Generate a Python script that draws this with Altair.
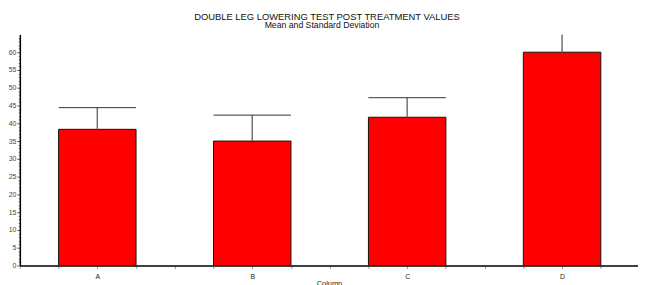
import altair as alt
import pandas as pd

categories = ["A", "B", "C", "D"]
means = [38.3, 35.0, 41.7, 60.0]
sds = [6.1, 7.3, 5.5, 8.0]
y_tick_values = list(range(0, 65))
x_tick_values = [i * 0.25 for i in range(16)]
title_text = "DOUBLE LEG LOWERING TEST POST TREATMENT VALUES"
subtitle_text = "Mean and Standard Deviation"
x_title = "Column"
corner_mark = "-"

df = pd.DataFrame({"cat": categories, "mean": means, "sd": sds})
df["pos"] = [i + 0.5 for i in range(len(categories))]
df["left"] = df["pos"] - 0.25
df["right"] = df["pos"] + 0.25
df["upper"] = df["mean"] + df["sd"]
df["zero"] = 0.0

cat_js = "[" + ",".join("'" + c + "'" for c in categories) + "]"
x_label_expr = f"(datum.value % 1) === 0.5 ? {cat_js}[floor(datum.value)] : ''"

FONT = "Liberation Sans"

xscale = alt.Scale(domain=[0, 3.99], nice=False, zero=False)
yscale = alt.Scale(domain=[0, 65], nice=False)

x_axis = alt.Axis(
    values=x_tick_values, labelExpr=x_label_expr, title=x_title, grid=False,
    tickSize=3, tickColor="#999", domainColor="#000", domainWidth=1.5,
    labelFontSize=7, labelColor="#222", labelFont=FONT, labelPadding=4,
    labelFlush=False, labelOverlap=False, titleFontSize=7.5, titleFont=FONT,
    titleFontWeight="normal", titleColor="#222", titlePadding=0,
)
y_axis = alt.Axis(
    values=y_tick_values, labelExpr="datum.value % 5 === 0 ? datum.label : ''",
    title=None, grid=False,
    tickSize={"condition": {"test": "datum.value % 5 === 0", "value": 3}, "value": 1.5},
    tickColor="#555", domainColor="#000", domainWidth=1.5,
    labelFontSize=7, labelColor="#444", labelFont=FONT, labelPadding=1,
    labelOverlap=False, labelFlush=False,
)

base = alt.Chart(df)

bars = base.mark_rect(color="#ff0000", stroke="#111", strokeWidth=1, clip=True).encode(
    x=alt.X("left:Q", scale=xscale, axis=x_axis),
    x2="right:Q",
    y=alt.Y("zero:Q", scale=yscale, axis=y_axis),
    y2="mean:Q",
)

whisker = base.mark_rule(color="#707070", strokeWidth=1.5, clip=True).encode(
    x=alt.X("pos:Q", scale=xscale, axis=x_axis),
    y=alt.Y("mean:Q", scale=yscale, axis=y_axis),
    y2="upper:Q",
)

cap = base.mark_rule(color="#333", strokeWidth=1, clip=True).encode(
    x=alt.X("left:Q", scale=xscale, axis=x_axis),
    x2="right:Q",
    y=alt.Y("upper:Q", scale=yscale, axis=y_axis),
)

texts = pd.DataFrame({
    "t": [title_text, subtitle_text, corner_mark],
    "role": ["title", "subtitle", "corner"],
})

title_mark = alt.Chart(texts).transform_filter("datum.role === 'title'").mark_text(
    fontSize=9.5, font=FONT, color="#111", align="center", baseline="alphabetic"
).encode(x=alt.value(311), y=alt.value(-15), text="t:N")

subtitle_mark = alt.Chart(texts).transform_filter("datum.role === 'subtitle'").mark_text(
    fontSize=8.8, font=FONT, color="#111", align="center", baseline="alphabetic"
).encode(x=alt.value(306), y=alt.value(-6), text="t:N")

corner = alt.Chart(texts).transform_filter("datum.role === 'corner'").mark_text(
    fontSize=9, font=FONT, color="#333", align="center", baseline="middle"
).encode(x=alt.value(-2), y=alt.value(-28), text="t:N")

chart = alt.layer(bars, whisker, cap, title_mark, subtitle_mark, corner).properties(
    width=626,
    height=234,
    autosize=alt.AutoSizeParams(type="none"),
    padding={"left": 12, "top": 25, "right": 0, "bottom": 18},
).configure_view(stroke=None)

chart.save("out.html", embed_options={"renderer": "svg", "actions": False})
